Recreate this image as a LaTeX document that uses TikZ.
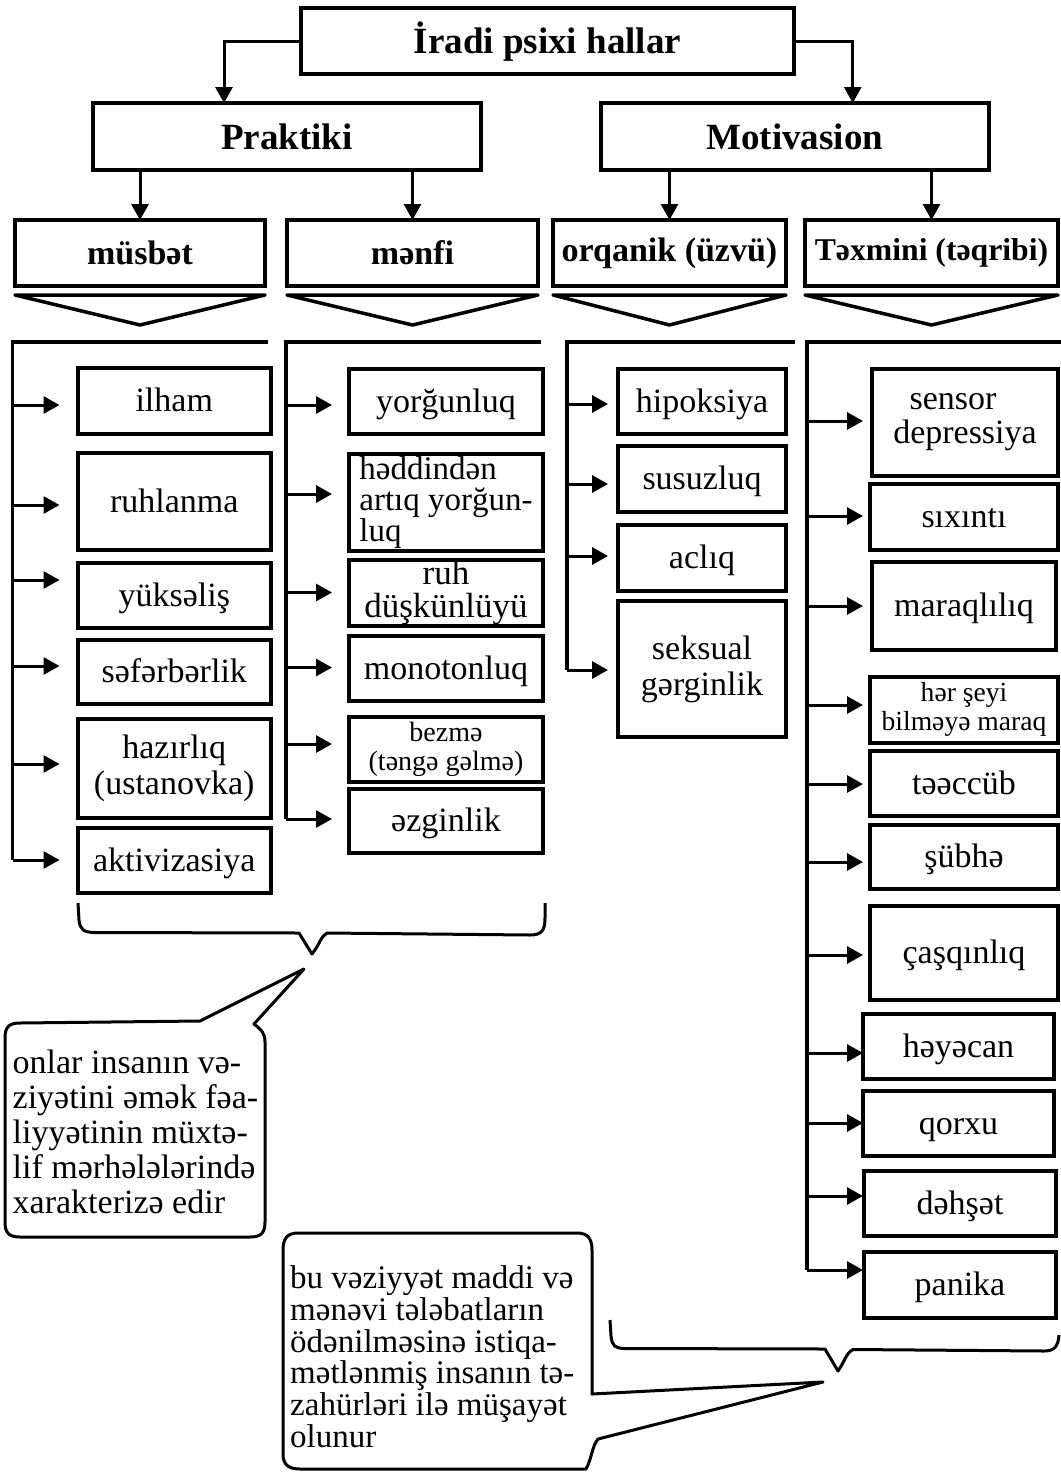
\documentclass[tikz,border=0pt]{standalone}
\usepackage{fontspec}
\setmainfont{Liberation Serif}
\usetikzlibrary{arrows.meta}
\newcommand\fs[2]{\fontsize{#1}{#2}\selectfont}
\newcommand\zs{\rule[-7.5pt]{0pt}{36.5pt}}
\tikzset{
  boxst/.style={draw, line width=4pt, inner sep=0pt, outer sep=0pt, align=center, font=\fs{34}{36}},
  hd/.style={font=\bfseries\fs{37}{40}, line width=4pt},
  subhd/.style={font=\bfseries\fs{34}{36}, line width=4pt},
  arr/.style={line width=3pt, -{Triangle[length=16pt,width=17pt]}},
  ln/.style={line width=3.5pt},
  brace/.style={line width=3pt, line join=round},
}
% #1 opts, #2 name, #3 x1, #4 y1, #5 x2, #6 y2, #7 text
\newcommand\bx[7][]{\node[boxst,minimum width={(#5-#3)*1pt},minimum height={(#6-#4)*1pt},#1] (#2) at ({(#3+#5)/2},{(#4+#6)/2}) {#7};}
% #1 box name, #2 bracket x, #3 arrow y, #4 gap
\newcommand\ar[4]{\coordinate (#1s) at (#2,#3); \draw[arr, shorten >=#4pt] (#1s) -- (#1s -| #1.west);}
\begin{document}
\begin{tikzpicture}[x=1pt,y=-1pt]
\useasboundingbox (0,0) rectangle (1060,1472);
% top levels
\bx[hd]{top}{300.7}{8.3}{794}{74}{İradi psixi hallar}
\bx[hd]{prak}{93}{103}{481}{170}{Praktiki}
\bx[hd]{mot}{601}{103}{988.5}{170}{Motivasion}
\bx[subhd]{mus}{15}{220}{265}{286}{müsbət}
\bx[subhd]{menf}{287}{220}{538}{286}{mənfi}
\bx[subhd]{orq}{553}{220}{786}{286}{orqanik (üzvü)}
\bx[subhd,font=\bfseries\fs{31.7}{34}]{tex}{805}{220}{1058}{286}{Təxmini (təqribi)}
\draw[arr] (top.west) -| ([xshift=-63pt]prak.north);
\draw[arr] (top.east) -| ([xshift=58pt]mot.north);
\foreach \a/\b in {prak/mus, prak/menf, mot/orq, mot/tex}
  \draw[arr] (\b.north |- \a.south) -- (\b.north);
\foreach \n in {mus,menf,orq,tex}
  \draw[ln, line join=round] ([yshift=-9pt]\n.south west) -- ([yshift=-9pt]\n.south east) -- ([yshift=-39pt]\n.south) -- cycle;
% column 1
\bx{ilham}{77.5}{367.5}{271}{433.6}{ilham\zs}
\bx{ruhl}{77.5}{453}{271}{550}{ruhlanma\zs}
\bx{yuks}{77.5}{563}{271}{627.5}{yüksəliş\zs}
\bx{sefer}{77.5}{640}{271}{704}{səfərbərlik\zs}
\bx{hazir}{77.5}{719}{271}{817.5}{hazırlıq\\(ustanovka)}
\bx{aktiv}{77.5}{828}{271}{893}{aktivizasiya\zs}
\ar{ilham}{12.5}{405}{18}
\ar{ruhl}{12.5}{505}{18}
\ar{yuks}{12.5}{580}{18}
\ar{sefer}{12.5}{666}{18}
\ar{hazir}{12.5}{764}{18}
\ar{aktiv}{12.5}{860}{18}
\coordinate (b1a) at (268,342);
\draw[ln] (b1a) -- (12.5,342) -- (aktivs);
% column 2
\bx{yorg}{349}{368.6}{543}{434}{yorğunluq\zs}
\bx[align=left,font=\fs{33}{31}]{hedd}{349}{454}{543}{551}{həddindən\\artıq yorğun-\\luq}
\bx[font=\fs{35}{33}]{ruh}{349}{560}{543}{626}{ruh\\düşkünlüyü}
\bx{mono}{349}{636}{543}{701}{monotonluq\zs}
\bx[font=\fs{28}{29}]{bezme}{349}{717}{543}{782}{bezmə\\(təngə gəlmə)}
\bx{ezg}{349}{789}{543}{853}{əzginlik\zs}
\ar{yorg}{286}{405}{17}
\ar{hedd}{286}{494}{17}
\ar{ruh}{286}{592.5}{17}
\ar{mono}{286}{667.5}{17}
\ar{bezme}{286}{744}{17}
\ar{ezg}{286}{819}{17}
\coordinate (b2a) at (541,342);
\draw[ln] (b2a) -- (286,342) -- (ezgs);
% column 3
\bx{hipo}{618}{368.6}{786}{434}{hipoksiya\zs}
\bx{susuz}{618}{446}{786}{512}{susuzluq\zs}
\bx{acliq}{618}{525}{786}{591}{aclıq\zs}
\bx{seks}{618}{601}{786}{737}{seksual\\gərginlik}
\ar{hipo}{567}{404}{10}
\ar{susuz}{567}{484}{10}
\ar{acliq}{567}{556}{10}
\ar{seks}{567}{670}{10}
\coordinate (b3a) at (795,342);
\draw[ln] (b3a) -- (567,342) -- (sekss);
% column 4
\bx[font=\fs{34}{34}]{sens}{872}{369}{1058}{476}{sensor\hspace*{24pt}\\depressiya}
\bx{sixin}{870}{484}{1058}{550}{sıxıntı\zs}
\bx{marq}{872}{562}{1056}{650}{maraqlılıq\zs}
\bx[font=\fs{27.6}{29}]{herse}{870}{677}{1058}{742.5}{hər şeyi\\bilməyə maraq}
\bx{teac}{870}{751}{1058}{816}{təəccüb\zs}
\bx{subhe}{870}{824.6}{1058}{889}{şübhə\zs}
\bx{casq}{870}{906}{1058}{1000}{çaşqınlıq\zs}
\bx{heyec}{863}{1014}{1054}{1079}{həyəcan\zs}
\bx{qorxu}{863}{1091}{1054}{1156}{qorxu\zs}
\bx{dehs}{864}{1171}{1056}{1236}{dəhşət\zs}
\bx{panika}{864}{1252}{1056}{1318}{panika\zs}
\ar{sens}{807}{421}{9}
\ar{sixin}{807}{516}{7}
\ar{marq}{807}{606}{9}
\ar{herse}{807}{705}{7}
\ar{teac}{807}{784}{7}
\ar{subhe}{807}{862}{7}
\ar{casq}{807}{955}{7}
\ar{heyec}{807}{1053}{0}
\ar{qorxu}{807}{1123}{0}
\ar{dehs}{807}{1196}{1}
\ar{panika}{807}{1270}{1}
\coordinate (b4a) at (1062,342);
\draw[ln] (b4a) -- (807,342) -- (panikas);
% left brace
\draw[brace] (78,903) -- (79,920) .. controls (80,930) and (84,932) .. (94,932.5)
  -- (299,933) -- (312,954) .. controls (320,944) and (321,936) .. (327,933)
  -- (530,935) .. controls (542,935) and (545,930) .. (545,918) -- (545,903);
% right brace
\draw[brace] (610,1320) -- (611,1336) .. controls (612,1346) and (615,1348) .. (624,1348.5)
  -- (825,1349) -- (838,1371) .. controls (845,1361) and (846,1353) .. (853,1349.5)
  -- (1044,1351) .. controls (1054,1351) and (1058,1347) .. (1059,1335);
% left bubble
\draw[brace] (200,1021) -- (304,969) -- (254,1024) .. controls (262,1030) and (265,1034) .. (265,1042)
  -- (265,1222) .. controls (265,1233) and (261,1237) .. (250,1237)
  -- (20,1237) .. controls (9,1237) and (5,1233) .. (5,1222)
  -- (5,1038) .. controls (5,1027) and (9,1023) .. (20,1023) -- cycle;
\node[anchor=north west, inner sep=0pt, align=left, font=\fs{34}{35}] (t1) at (12.5,1050)
  {onlar insanın və-\\ziyətini əmək fəa-\\liyyətinin müxtə-\\lif mərhələlərində\\xarakterizə edir};
% bottom bubble
\draw[brace] (283,1250) .. controls (283,1239) and (287,1233) .. (298,1233)
  -- (577,1233) .. controls (588,1233) and (592,1239) .. (592,1250)
  -- (592,1394) -- (823,1382) -- (598,1439) .. controls (592,1446) and (592,1458) .. (586,1469)
  -- (300,1469) .. controls (289,1469) and (283,1465) .. (283,1454) -- cycle;
\node[anchor=north west, inner sep=0pt, align=left, font=\fs{33}{31.7}] (t2) at (290,1265.5)
  {bu vəziyyət maddi və\\mənəvi tələbatların\\ödənilməsinə istiqa-\\mətlənmiş insanın tə-\\zahürləri ilə müşayət\\olunur};
\end{tikzpicture}
\end{document}
